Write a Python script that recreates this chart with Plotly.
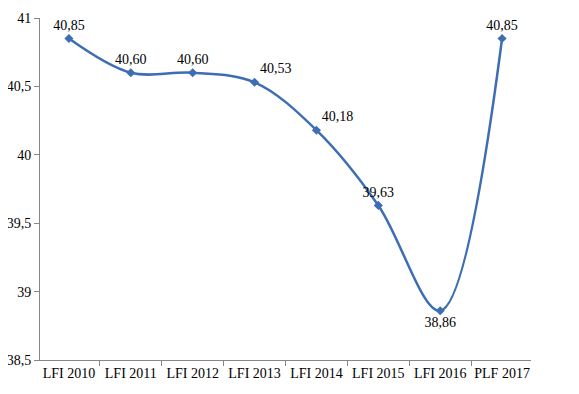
import plotly.graph_objects as go

categories = ["LFI 2010", "LFI 2011", "LFI 2012", "LFI 2013", "LFI 2014", "LFI 2015", "LFI 2016", "PLF 2017"]
values = [40.85, 40.60, 40.60, 40.53, 40.18, 39.63, 38.86, 40.85]
label_positions = ["top center", "top center", "top center", "top right", "top right", "top center", "bottom center", "top center"]

blue = "#3D6EB4"
axis_gray = "#868686"
font_family = "Liberation Serif, serif"

fig = go.Figure(go.Scatter(
    x=categories, y=values,
    mode="lines+markers+text",
    line=dict(color=blue, width=2.5, shape="spline", smoothing=1.0),
    marker=dict(symbol="diamond", size=7, color=blue),
    texttemplate="%{y:.2f}",
    textposition=label_positions,
    textfont=dict(family=font_family, size=14, color="#000000"),
    cliponaxis=False,
    hoverinfo="skip",
))

# the page body has an 8px default margin; margins compensate for it
fig.update_layout(
    width=579, height=394,
    margin=dict(l=32, r=56, t=10, b=42, autoexpand=False),
    paper_bgcolor="white", plot_bgcolor="white",
    separators=", ",
    showlegend=False,
    font=dict(family=font_family, size=14, color="#000000"),
)
fig.update_xaxes(
    type="category", automargin=False,
    showline=True, linecolor=axis_gray, linewidth=1,
    ticks="outside", tickson="boundaries", ticklen=5, tickcolor=axis_gray,
    showgrid=False, zeroline=False,
    tickfont=dict(family=font_family, size=14),
)
fig.update_yaxes(
    range=[38.5, 41], dtick=0.5, tick0=38.5, automargin=False,
    showline=True, linecolor=axis_gray, linewidth=1,
    ticks="outside", ticklen=5, tickcolor=axis_gray,
    showgrid=False, zeroline=False,
    tickfont=dict(family=font_family, size=14),
)

fig.write_html("out.html", config={"displayModeBar": False})
